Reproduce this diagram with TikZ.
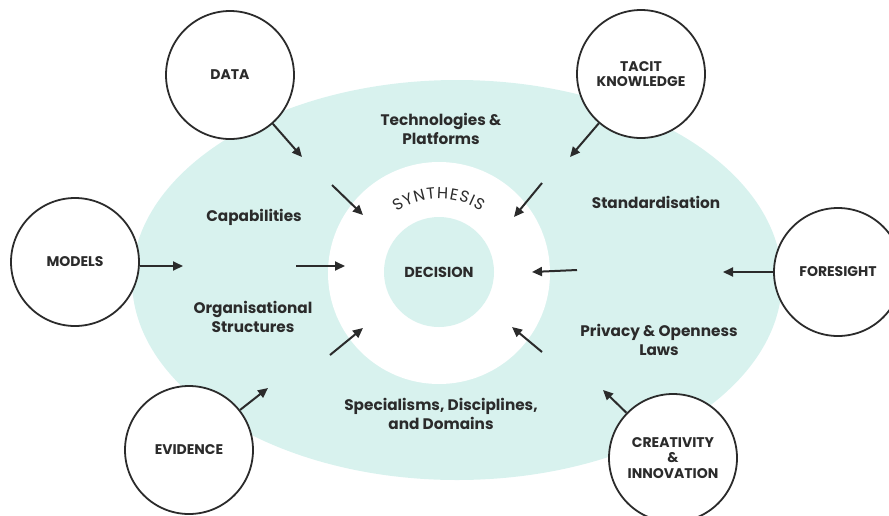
\documentclass[tikz,border=0pt]{standalone}
\usepackage{fontspec}
\setmainfont{Poppins}
\usetikzlibrary{arrows.meta,calc}
\definecolor{teallt}{RGB}{216,242,238}
\definecolor{ink}{RGB}{43,43,43}
\begin{document}
\begin{tikzpicture}[x=1pt,y=-1pt,
  ext/.style={circle,draw=ink,line width=1.8pt,fill=white,minimum size=128pt,inner sep=0pt,align=center,
    font=\bfseries\fontsize{14}{15.5}\selectfont,text=ink},
  lbl/.style={align=center,font=\bfseries\fontsize{15.3}{19}\selectfont,text=ink},
  arr/.style={draw=ink,line width=2pt,-{Triangle[length=10pt,width=9pt]}},
  syn/.style={font=\fontsize{16}{16}\selectfont,text=ink,inner sep=0pt}]
\useasboundingbox (0,0) rectangle (889,515);
\clip (0,0) rectangle (889,515);
% background shapes
\fill[teallt] (457,280) ellipse [x radius=325pt, y radius=200pt];
\fill[white] (439,273) circle [radius=111pt];
\node[circle,fill=teallt,minimum size=110pt,inner sep=0pt,font=\bfseries\fontsize{14.5}{16}\selectfont,text=ink] (dec) at (439,272) {DECISION};
% SYNTHESIS along the arc
\coordinate (ringc) at (439,273);
\foreach \ch/\ang [count=\i] in {S/121,Y/113.1,N/104.4,T/95.9,H/87.4,E/79.0,S/71.4,I/65.4,S/59.5}{
  \node[syn,rotate=\ang-90] (syn\i) at ($(ringc)+(\ang:80pt)$) {\ch};
}
% outer circles
\node[ext] (data) at (230,75) {DATA};
\node[ext] (tacit) at (641,74) {TACIT\\KNOWLEDGE};
\node[ext] (models) at (75,262) {MODELS};
\node[ext] (fore) at (838,272) {FORESIGHT};
\node[ext] (evid) at (189,450) {EVIDENCE};
\node[ext] (creat) at (673,458) {CREATIVITY\\\&\\INNOVATION};
% labels
\node[lbl] (tech) at (441,129) {Technologies \&\\Platforms};
\node[lbl] (cap) at (254,217) {Capabilities};
\node[lbl] (std) at (656,202) {Standardisation};
\node[lbl] (org) at (253,317) {Organisational\\Structures};
\node[lbl] (priv) at (659,340) {Privacy \& Openness\\Laws};
\node[lbl] (spec) at (441,414) {Specialisms, Disciplines,\\and Domains};
% arrow end points
\coordinate (e1) at (302,157);
\coordinate (e2) at (570,157);
\coordinate (e3) at (183,266);
\coordinate (e4) at (723,272);
\coordinate (e5) at (268,388);
\coordinate (e6) at (603,390);
\coordinate (s7) at (332,185); \coordinate (e7) at (363,215);
\coordinate (s8) at (542,183); \coordinate (e8) at (514,217);
\coordinate (s9) at (296,266); \coordinate (e9) at (345,266);
\coordinate (s10) at (577,270); \coordinate (e10) at (532,272);
\coordinate (s11) at (330,355); \coordinate (e11) at (363,328);
\coordinate (s12) at (542,352); \coordinate (e12) at (512,327);
\coordinate (s3) at (140,266);
% arrows
\draw[arr] (data) -- (e1);
\draw[arr] (tacit) -- (e2);
\draw[arr] (s3) -- (e3);
\draw[arr] (fore) -- (e4);
\draw[arr] (evid) -- (e5);
\draw[arr] (creat) -- (e6);
\draw[arr] (s7) -- (e7);
\draw[arr] (s8) -- (e8);
\draw[arr] (s9) -- (e9);
\draw[arr] (s10) -- (e10);
\draw[arr] (s11) -- (e11);
\draw[arr] (s12) -- (e12);
\end{tikzpicture}
\end{document}
